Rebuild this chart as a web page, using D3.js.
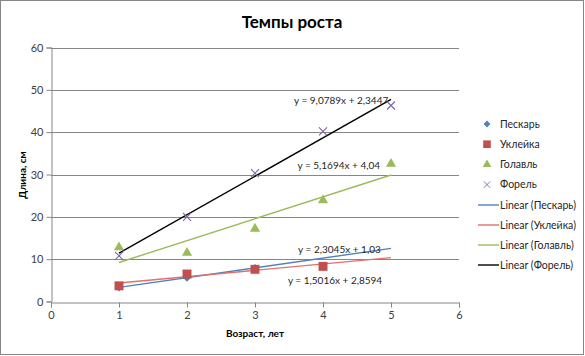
<!DOCTYPE html>
<html lang="ru">
<head>
  <meta charset="UTF-8">
  <title>Темпы роста</title>
  <script src="https://d3js.org/d3.v7.min.js"></script>
  <style>
    body { margin: 0; background: #fff; }
    svg { font-family: Lato, "Open Sans", sans-serif; }
  </style>
</head>
<body>
<div id="chart"></div>
<script>
  // Data
  const ages = [1, 2, 3, 4, 5];
  const seriesNames = ["Пескарь", "Уклейка", "Голавль", "Форель"];
  const peskar = [3.3, 5.6, 7.9, null, null];
  const ukleika = [3.7, 6.5, 7.6, 8.3, null];
  const golavl = [12.8, 11.5, 17.2, 23.9, 32.5];
  const forel = [10.8, 20.0, 30.3, 40.2, 46.3];
  // trendline coefficients, as printed on the chart
  const slopes = [2.3045, 1.5016, 5.1694, 9.0789];
  const intercepts = [1.03, 2.8594, 4.04, 2.3447];
  const eqLabels = ["y = 2,3045x + 1,03", "y = 1,5016x + 2,8594", "y = 5,1694x + 4,04", "y = 9,0789x + 2,3447"];
  const xTicks = [0, 1, 2, 3, 4, 5, 6];
  const yTicks = [0, 10, 20, 30, 40, 50, 60];

  const W = 585, H = 356;
  const colors = ["#4F81BD", "#C0504D", "#9BBB59", "#8064A2"];
  const lineColors = ["#4F81BD", "#E0706D", "#9BBB59", "#000000"];
  const values = [peskar, ukleika, golavl, forel];

  const svg = d3.select("#chart").append("svg")
    .attr("width", W).attr("height", H);

  // outer frame
  svg.append("rect")
    .attr("x", 0.5).attr("y", 0.5)
    .attr("width", W - 2).attr("height", H - 2)
    .attr("fill", "#fff").attr("stroke", "#868686");

  const x = d3.scaleLinear().domain([0, 6]).range([51, 459]);
  const y = d3.scaleLinear().domain([0, 60]).range([301.5, 47.5]);

  // gridlines
  svg.append("g").selectAll("line")
    .data(yTicks.slice(1))
    .join("line")
    .attr("x1", x(0)).attr("x2", x(6))
    .attr("y1", d => Math.round(y(d)) + 0.5).attr("y2", d => Math.round(y(d)) + 0.5)
    .attr("stroke", "#868686");

  // axes
  const yAxis = svg.append("g")
    .attr("transform", `translate(${x(0) + 0.5},0)`)
    .call(d3.axisLeft(y).tickValues(yTicks).tickFormat(d3.format("d")).tickSize(5).tickPadding(3));
  const xAxis = svg.append("g")
    .attr("transform", `translate(0,${Math.round(y(0)) + 0.5})`)
    .call(d3.axisBottom(x).tickValues(xTicks).tickFormat(d3.format("d")).tickSize(5).tickPadding(4));
  [xAxis, yAxis].forEach(g => {
    g.select(".domain").attr("stroke", "#868686");
    g.selectAll(".tick line").attr("stroke", "#868686");
    g.selectAll("text").attr("fill", "#404040")
      .style("font-size", "11px").style("font-family", "Lato, sans-serif");
  });

  // trendlines
  const trend = svg.append("g");
  slopes.forEach((k, i) => {
    trend.append("line")
      .attr("x1", x(1)).attr("y1", y(k * 1 + intercepts[i]))
      .attr("x2", x(5)).attr("y2", y(k * 5 + intercepts[i]))
      .attr("stroke", lineColors[i]).attr("stroke-width", 1.4);
  });

  // markers
  const sym = [null, d3.symbolSquare, d3.symbolTriangle];
  const sizes = [0, 80, 45];
  function marker(g, i) {
    if (i === 3) {
      g.append("path").attr("d", "M-4,-4L4,4M-4,4L4,-4")
        .attr("stroke", colors[3]).attr("stroke-width", 1.1).attr("fill", "none");
    } else if (i === 0) {
      g.append("path").attr("d", "M0,-4L4,0L0,4L-4,0Z").attr("fill", colors[0]);
    } else {
      g.append("path").attr("d", d3.symbol(sym[i], sizes[i])())
        .attr("fill", colors[i]);
    }
  }
  values.forEach((vals, i) => {
    ages.forEach((a, j) => {
      if (vals[j] == null) return;
      const g = svg.append("g").attr("transform", `translate(${x(a)},${y(vals[j])})`);
      marker(g, i);
    });
  });

  // equation labels (anchored at right end, data coords)
  const eqPos = [[4.85, 12.3], [4.87, 5.0], [4.84, 32.1], [4.96, 47.4]];
  svg.append("g").selectAll("text")
    .data(eqLabels)
    .join("text")
    .attr("x", (d, i) => x(eqPos[i][0]))
    .attr("y", (d, i) => y(eqPos[i][1]))
    .attr("dy", "0.35em")
    .attr("text-anchor", "end")
    .attr("fill", "#262626")
    .style("font-size", "10px")
    .text(d => d);

  // title
  svg.append("text")
    .attr("x", 292).attr("y", 28)
    .attr("text-anchor", "middle")
    .style("font-size", "17px").style("font-weight", "bold")
    .attr("fill", "#000")
    .text("Темпы роста");

  // axis titles
  svg.append("text")
    .attr("x", 255).attr("y", 337)
    .attr("text-anchor", "middle")
    .style("font-size", "10px").style("font-weight", "bold")
    .attr("fill", "#000")
    .text("Возраст, лет");
  svg.append("text")
    .attr("transform", "translate(26,175) rotate(-90)")
    .attr("text-anchor", "middle")
    .style("font-size", "10px").style("font-weight", "bold")
    .attr("fill", "#000")
    .text("Длина, см");

  // legend
  const legend = svg.append("g").style("font-size", "10.5px");
  seriesNames.forEach((name, i) => {
    const g = legend.append("g").attr("transform", `translate(487,${124 + i * 20.2})`);
    marker(g.append("g").attr("transform", i === 3 ? "scale(0.8)" : "scale(0.85)"), i);
    g.append("text").attr("x", 13).attr("dy", "0.35em").attr("fill", "#262626").text(name);
  });
  seriesNames.forEach((name, i) => {
    const g = legend.append("g").attr("transform", `translate(478,${205 + i * 20})`);
    g.append("line").attr("x1", 0).attr("x2", 21)
      .attr("stroke", lineColors[i]).attr("stroke-width", 1.4);
    g.append("text").attr("x", 22).attr("dy", "0.35em").attr("fill", "#262626")
      .text(`Linear (${name})`);
  });
</script>
</body>
</html>
